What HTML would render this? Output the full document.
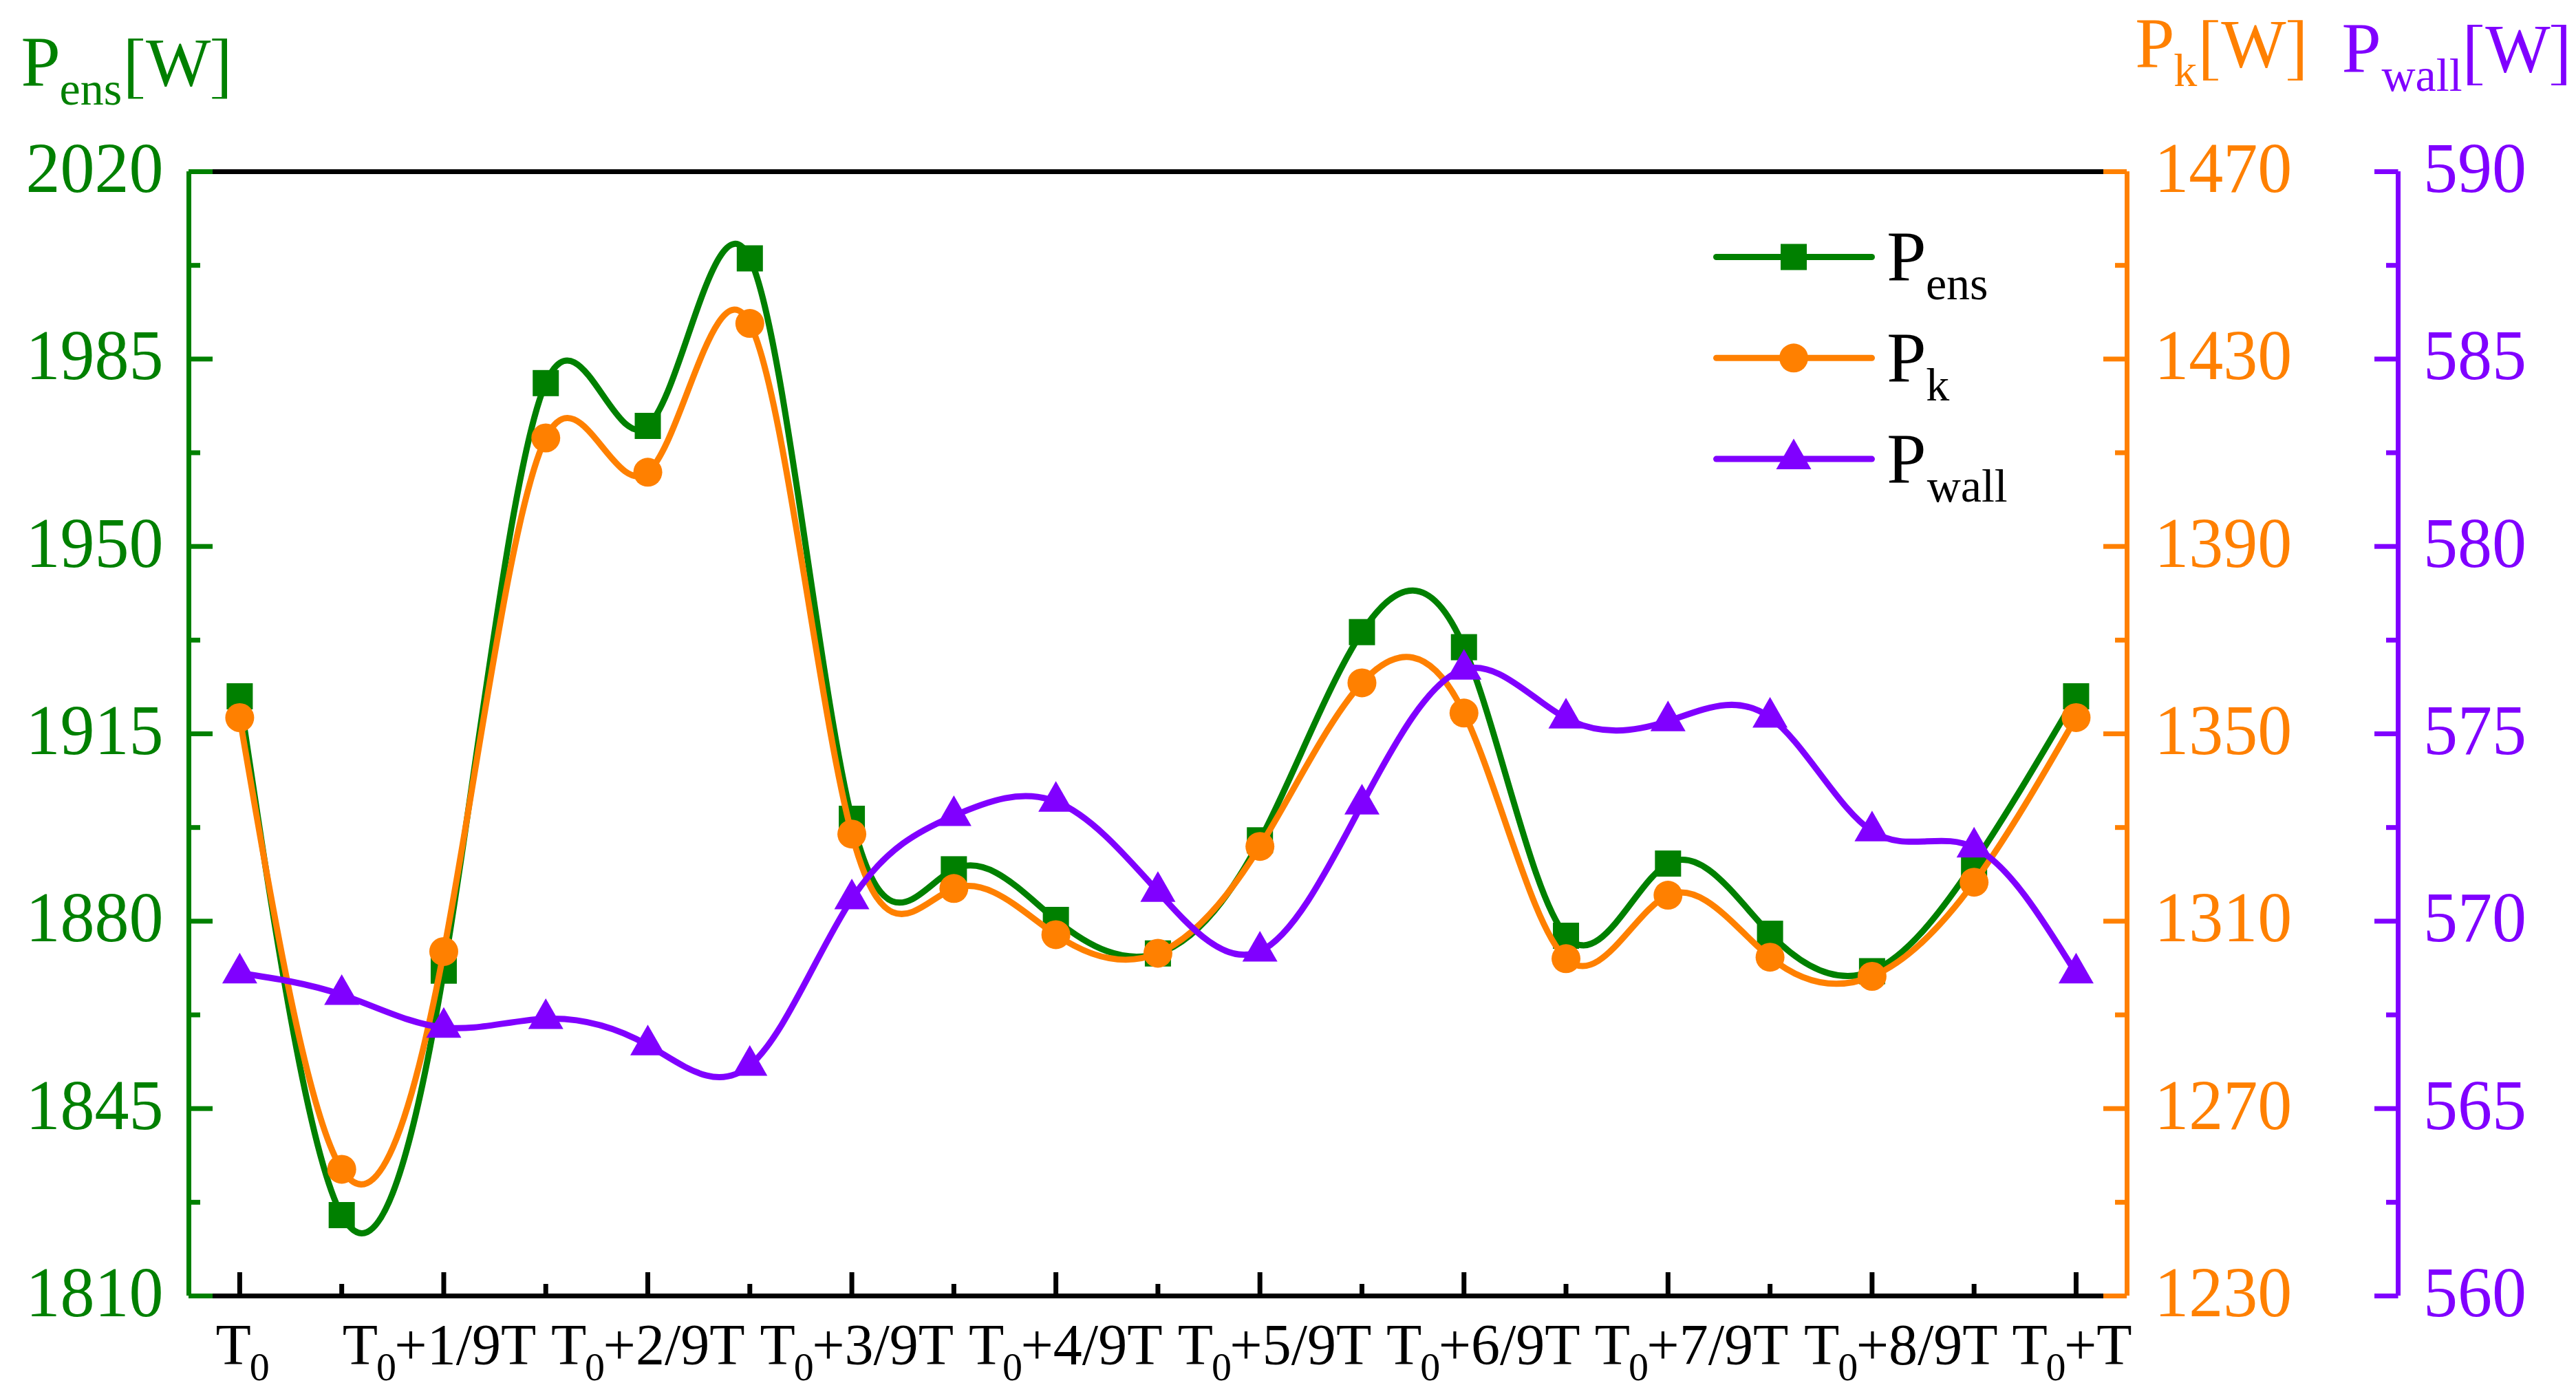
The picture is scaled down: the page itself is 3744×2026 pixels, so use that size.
<!DOCTYPE html><html><head><meta charset="utf-8"><style>html,body{margin:0;padding:0;background:#fff;overflow:hidden}svg{display:block}text{font-family:"Liberation Serif",serif}</style></head><body>
<svg width="3744" height="2026" viewBox="0 0 3744 2026">
<rect width="3744" height="2026" fill="#fff"/>
<rect x="274.00" y="246.00" width="2817.00" height="7" fill="#000000"/>
<rect x="274.00" y="1880.00" width="2817.00" height="7" fill="#000000"/>
<rect x="344.90" y="1849.00" width="7" height="34.50" fill="#000000"/>
<rect x="641.46" y="1849.00" width="7" height="34.50" fill="#000000"/>
<rect x="938.02" y="1849.00" width="7" height="34.50" fill="#000000"/>
<rect x="1234.58" y="1849.00" width="7" height="34.50" fill="#000000"/>
<rect x="1531.14" y="1849.00" width="7" height="34.50" fill="#000000"/>
<rect x="1827.70" y="1849.00" width="7" height="34.50" fill="#000000"/>
<rect x="2124.26" y="1849.00" width="7" height="34.50" fill="#000000"/>
<rect x="2420.82" y="1849.00" width="7" height="34.50" fill="#000000"/>
<rect x="2717.38" y="1849.00" width="7" height="34.50" fill="#000000"/>
<rect x="3013.94" y="1849.00" width="7" height="34.50" fill="#000000"/>
<rect x="493.18" y="1866.00" width="7" height="17.50" fill="#000000"/>
<rect x="789.74" y="1866.00" width="7" height="17.50" fill="#000000"/>
<rect x="1086.30" y="1866.00" width="7" height="17.50" fill="#000000"/>
<rect x="1382.86" y="1866.00" width="7" height="17.50" fill="#000000"/>
<rect x="1679.42" y="1866.00" width="7" height="17.50" fill="#000000"/>
<rect x="1975.98" y="1866.00" width="7" height="17.50" fill="#000000"/>
<rect x="2272.54" y="1866.00" width="7" height="17.50" fill="#000000"/>
<rect x="2569.10" y="1866.00" width="7" height="17.50" fill="#000000"/>
<rect x="2865.66" y="1866.00" width="7" height="17.50" fill="#000000"/>
<rect x="271.00" y="249.00" width="7" height="1634.00" fill="#008000"/>
<rect x="274.00" y="246.00" width="35.00" height="7" fill="#008000"/>
<rect x="274.00" y="518.33" width="35.00" height="7" fill="#008000"/>
<rect x="274.00" y="790.67" width="35.00" height="7" fill="#008000"/>
<rect x="274.00" y="1063.00" width="35.00" height="7" fill="#008000"/>
<rect x="274.00" y="1335.33" width="35.00" height="7" fill="#008000"/>
<rect x="274.00" y="1607.67" width="35.00" height="7" fill="#008000"/>
<rect x="274.00" y="1880.00" width="35.00" height="7" fill="#008000"/>
<rect x="274.00" y="382.17" width="17.00" height="7" fill="#008000"/>
<rect x="274.00" y="654.50" width="17.00" height="7" fill="#008000"/>
<rect x="274.00" y="926.83" width="17.00" height="7" fill="#008000"/>
<rect x="274.00" y="1199.17" width="17.00" height="7" fill="#008000"/>
<rect x="274.00" y="1471.50" width="17.00" height="7" fill="#008000"/>
<rect x="274.00" y="1743.83" width="17.00" height="7" fill="#008000"/>
<rect x="3088.00" y="249.00" width="7" height="1634.00" fill="#FF8000"/>
<rect x="3057.00" y="246.00" width="34.00" height="7" fill="#FF8000"/>
<rect x="3057.00" y="518.33" width="34.00" height="7" fill="#FF8000"/>
<rect x="3057.00" y="790.67" width="34.00" height="7" fill="#FF8000"/>
<rect x="3057.00" y="1063.00" width="34.00" height="7" fill="#FF8000"/>
<rect x="3057.00" y="1335.33" width="34.00" height="7" fill="#FF8000"/>
<rect x="3057.00" y="1607.67" width="34.00" height="7" fill="#FF8000"/>
<rect x="3057.00" y="1880.00" width="34.00" height="7" fill="#FF8000"/>
<rect x="3074.00" y="382.17" width="17.00" height="7" fill="#FF8000"/>
<rect x="3074.00" y="654.50" width="17.00" height="7" fill="#FF8000"/>
<rect x="3074.00" y="926.83" width="17.00" height="7" fill="#FF8000"/>
<rect x="3074.00" y="1199.17" width="17.00" height="7" fill="#FF8000"/>
<rect x="3074.00" y="1471.50" width="17.00" height="7" fill="#FF8000"/>
<rect x="3074.00" y="1743.83" width="17.00" height="7" fill="#FF8000"/>
<rect x="3482.00" y="249.00" width="7" height="1634.00" fill="#8000FF"/>
<rect x="3451.00" y="246.00" width="34.50" height="7" fill="#8000FF"/>
<rect x="3451.00" y="518.33" width="34.50" height="7" fill="#8000FF"/>
<rect x="3451.00" y="790.67" width="34.50" height="7" fill="#8000FF"/>
<rect x="3451.00" y="1063.00" width="34.50" height="7" fill="#8000FF"/>
<rect x="3451.00" y="1335.33" width="34.50" height="7" fill="#8000FF"/>
<rect x="3451.00" y="1607.67" width="34.50" height="7" fill="#8000FF"/>
<rect x="3451.00" y="1880.00" width="34.50" height="7" fill="#8000FF"/>
<rect x="3468.00" y="382.17" width="17.50" height="7" fill="#8000FF"/>
<rect x="3468.00" y="654.50" width="17.50" height="7" fill="#8000FF"/>
<rect x="3468.00" y="926.83" width="17.50" height="7" fill="#8000FF"/>
<rect x="3468.00" y="1199.17" width="17.50" height="7" fill="#8000FF"/>
<rect x="3468.00" y="1471.50" width="17.50" height="7" fill="#8000FF"/>
<rect x="3468.00" y="1743.83" width="17.50" height="7" fill="#8000FF"/>
<text transform="translate(237.5 278.8) scale(1 1.030)" font-size="100" fill="#008000" text-anchor="end">2020</text>
<text transform="translate(3131.3 278.8) scale(1 1.030)" font-size="100" fill="#FF8000">1470</text>
<text transform="translate(3522 278.8) scale(1 1.030)" font-size="100" fill="#8000FF">590</text>
<text transform="translate(237.5 551.1) scale(1 1.030)" font-size="100" fill="#008000" text-anchor="end">1985</text>
<text transform="translate(3131.3 551.1) scale(1 1.030)" font-size="100" fill="#FF8000">1430</text>
<text transform="translate(3522 551.1) scale(1 1.030)" font-size="100" fill="#8000FF">585</text>
<text transform="translate(237.5 823.5) scale(1 1.030)" font-size="100" fill="#008000" text-anchor="end">1950</text>
<text transform="translate(3131.3 823.5) scale(1 1.030)" font-size="100" fill="#FF8000">1390</text>
<text transform="translate(3522 823.5) scale(1 1.030)" font-size="100" fill="#8000FF">580</text>
<text transform="translate(237.5 1095.8) scale(1 1.030)" font-size="100" fill="#008000" text-anchor="end">1915</text>
<text transform="translate(3131.3 1095.8) scale(1 1.030)" font-size="100" fill="#FF8000">1350</text>
<text transform="translate(3522 1095.8) scale(1 1.030)" font-size="100" fill="#8000FF">575</text>
<text transform="translate(237.5 1368.1) scale(1 1.030)" font-size="100" fill="#008000" text-anchor="end">1880</text>
<text transform="translate(3131.3 1368.1) scale(1 1.030)" font-size="100" fill="#FF8000">1310</text>
<text transform="translate(3522 1368.1) scale(1 1.030)" font-size="100" fill="#8000FF">570</text>
<text transform="translate(237.5 1640.5) scale(1 1.030)" font-size="100" fill="#008000" text-anchor="end">1845</text>
<text transform="translate(3131.3 1640.5) scale(1 1.030)" font-size="100" fill="#FF8000">1270</text>
<text transform="translate(3522 1640.5) scale(1 1.030)" font-size="100" fill="#8000FF">565</text>
<text transform="translate(237.5 1912.8) scale(1 1.030)" font-size="100" fill="#008000" text-anchor="end">1810</text>
<text transform="translate(3131.3 1912.8) scale(1 1.030)" font-size="100" fill="#FF8000">1230</text>
<text transform="translate(3522 1912.8) scale(1 1.030)" font-size="100" fill="#8000FF">560</text>
<text x="313.6" y="1983" font-size="84" fill="#000">T<tspan font-size="58" dx="-2.2" dy="22.5">0</tspan></text>
<text x="497.8" y="1983" font-size="84" fill="#000">T<tspan font-size="58" dx="-2.2" dy="22.5">0</tspan><tspan dx="-2.57" dy="-22.5">+1/9T</tspan></text>
<text x="801.0" y="1983" font-size="84" fill="#000">T<tspan font-size="58" dx="-2.2" dy="22.5">0</tspan><tspan dx="-2.57" dy="-22.5">+2/9T</tspan></text>
<text x="1104.6" y="1983" font-size="84" fill="#000">T<tspan font-size="58" dx="-2.2" dy="22.5">0</tspan><tspan dx="-2.57" dy="-22.5">+3/9T</tspan></text>
<text x="1407.9" y="1983" font-size="84" fill="#000">T<tspan font-size="58" dx="-2.2" dy="22.5">0</tspan><tspan dx="-2.57" dy="-22.5">+4/9T</tspan></text>
<text x="1711.8" y="1983" font-size="84" fill="#000">T<tspan font-size="58" dx="-2.2" dy="22.5">0</tspan><tspan dx="-2.57" dy="-22.5">+5/9T</tspan></text>
<text x="2015.1" y="1983" font-size="84" fill="#000">T<tspan font-size="58" dx="-2.2" dy="22.5">0</tspan><tspan dx="-2.57" dy="-22.5">+6/9T</tspan></text>
<text x="2317.8" y="1983" font-size="84" fill="#000">T<tspan font-size="58" dx="-2.2" dy="22.5">0</tspan><tspan dx="-2.57" dy="-22.5">+7/9T</tspan></text>
<text x="2622.1" y="1983" font-size="84" fill="#000">T<tspan font-size="58" dx="-2.2" dy="22.5">0</tspan><tspan dx="-2.57" dy="-22.5">+8/9T</tspan></text>
<text x="2924.4" y="1983" font-size="84" fill="#000">T<tspan font-size="58" dx="-2.2" dy="22.5">0</tspan><tspan dx="-2.57" dy="-22.5">+T</tspan></text>
<text x="30.5" y="125" font-size="103" fill="#008000">P</text>
<text x="86.5" y="152" font-size="68" fill="#008000">ens</text>
<path d="M186.3 56.1 H208.0 V59.1 H194.0 V141.0 H208.0 V143.6 H186.3 Z" fill="#008000"/>
<text x="212" y="124.3" font-size="100" fill="#008000">W</text>
<path d="M330.0 56.1 H308.3 V59.1 H322.3 V141.0 H308.3 V143.6 H330.0 Z" fill="#008000"/>
<text x="3103.2" y="98" font-size="103" fill="#FF8000">P</text>
<text x="3159.2" y="124.5" font-size="68" fill="#FF8000">k</text>
<path d="M3202.1 29.2 H3223.8 V32.2 H3209.8 V114.4 H3223.8 V117.0 H3202.1 Z" fill="#FF8000"/>
<text x="3228.3" y="97.3" font-size="100" fill="#FF8000">W</text>
<path d="M3346.8 29.2 H3325.1 V32.2 H3339.1 V114.4 H3325.1 V117.0 H3346.8 Z" fill="#FF8000"/>
<text x="3403.5" y="104.9" font-size="103" fill="#8000FF">P</text>
<text x="3461.5" y="131.5" font-size="68" fill="#8000FF">wall</text>
<path d="M3586.2 36.1 H3607.9 V39.1 H3593.9 V121.4 H3607.9 V124.0 H3586.2 Z" fill="#8000FF"/>
<text x="3612.3" y="104.2" font-size="100" fill="#8000FF">W</text>
<path d="M3729.8 36.1 H3708.1 V39.1 H3722.1 V121.4 H3708.1 V124.0 H3729.8 Z" fill="#8000FF"/>
<path d="M348.40 1012.00 C397.83 1343.50 447.25 1675.00 496.68 1766.00 C546.11 1857.00 595.53 1707.49 644.96 1410.70 C694.39 1113.91 743.81 669.83 793.24 556.80 C842.67 443.77 892.09 661.79 941.52 619.00 C990.95 576.21 1040.37 272.61 1089.80 375.50 C1139.23 478.39 1188.65 987.77 1238.08 1190.00 C1287.51 1392.23 1336.93 1287.32 1386.36 1263.40 C1435.79 1239.48 1485.21 1296.56 1534.64 1337.00 C1584.07 1377.44 1633.49 1401.23 1682.92 1385.70 C1732.35 1370.17 1781.77 1315.31 1831.20 1221.30 C1880.63 1127.29 1930.05 994.12 1979.48 918.70 C2028.91 843.28 2078.33 825.62 2127.76 940.60 C2177.19 1055.58 2226.61 1303.20 2276.04 1360.00 C2325.47 1416.80 2374.89 1282.79 2424.32 1255.10 C2473.75 1227.41 2523.17 1306.06 2572.60 1357.10 C2622.03 1408.14 2671.45 1431.58 2720.88 1411.50 C2770.31 1391.42 2819.73 1327.84 2869.16 1254.00 C2918.59 1180.16 2968.01 1096.08 3017.44 1012.00" fill="none" stroke="#008000" stroke-width="9" stroke-linejoin="round" stroke-linecap="round"/>
<rect x="329.40" y="993.00" width="38" height="38" fill="#008000"/>
<rect x="477.68" y="1747.00" width="38" height="38" fill="#008000"/>
<rect x="625.96" y="1391.70" width="38" height="38" fill="#008000"/>
<rect x="774.24" y="537.80" width="38" height="38" fill="#008000"/>
<rect x="922.52" y="600.00" width="38" height="38" fill="#008000"/>
<rect x="1070.80" y="356.50" width="38" height="38" fill="#008000"/>
<rect x="1219.08" y="1171.00" width="38" height="38" fill="#008000"/>
<rect x="1367.36" y="1244.40" width="38" height="38" fill="#008000"/>
<rect x="1515.64" y="1318.00" width="38" height="38" fill="#008000"/>
<rect x="1663.92" y="1366.70" width="38" height="38" fill="#008000"/>
<rect x="1812.20" y="1202.30" width="38" height="38" fill="#008000"/>
<rect x="1960.48" y="899.70" width="38" height="38" fill="#008000"/>
<rect x="2108.76" y="921.60" width="38" height="38" fill="#008000"/>
<rect x="2257.04" y="1341.00" width="38" height="38" fill="#008000"/>
<rect x="2405.32" y="1236.10" width="38" height="38" fill="#008000"/>
<rect x="2553.60" y="1338.10" width="38" height="38" fill="#008000"/>
<rect x="2701.88" y="1392.50" width="38" height="38" fill="#008000"/>
<rect x="2850.16" y="1235.00" width="38" height="38" fill="#008000"/>
<rect x="2998.44" y="993.00" width="38" height="38" fill="#008000"/>
<path d="M348.40 1043.00 C397.83 1332.32 447.25 1621.64 496.68 1699.40 C546.11 1777.16 595.53 1643.35 644.96 1382.90 C694.39 1122.45 743.81 735.37 793.24 636.50 C842.67 537.63 892.09 726.96 941.52 686.30 C990.95 645.64 1040.37 374.98 1089.80 470.10 C1139.23 565.22 1188.65 1026.11 1238.08 1212.20 C1287.51 1398.29 1336.93 1309.57 1386.36 1291.30 C1435.79 1273.03 1485.21 1325.19 1534.64 1358.40 C1584.07 1391.61 1633.49 1405.85 1682.92 1385.40 C1732.35 1364.95 1781.77 1309.81 1831.20 1230.20 C1880.63 1150.59 1930.05 1046.53 1979.48 992.40 C2028.91 938.27 2078.33 934.09 2127.76 1036.30 C2177.19 1138.51 2226.61 1347.13 2276.04 1393.30 C2325.47 1439.47 2374.89 1323.19 2424.32 1301.10 C2473.75 1279.01 2523.17 1351.10 2572.60 1391.20 C2622.03 1431.30 2671.45 1439.42 2720.88 1419.00 C2770.31 1398.58 2819.73 1349.64 2869.16 1282.20 C2918.59 1214.76 2968.01 1128.83 3017.44 1042.90" fill="none" stroke="#FF8000" stroke-width="9" stroke-linejoin="round" stroke-linecap="round"/>
<circle cx="348.40" cy="1043.00" r="21.0" fill="#FF8000"/>
<circle cx="496.68" cy="1699.40" r="21.0" fill="#FF8000"/>
<circle cx="644.96" cy="1382.90" r="21.0" fill="#FF8000"/>
<circle cx="793.24" cy="636.50" r="21.0" fill="#FF8000"/>
<circle cx="941.52" cy="686.30" r="21.0" fill="#FF8000"/>
<circle cx="1089.80" cy="470.10" r="21.0" fill="#FF8000"/>
<circle cx="1238.08" cy="1212.20" r="21.0" fill="#FF8000"/>
<circle cx="1386.36" cy="1291.30" r="21.0" fill="#FF8000"/>
<circle cx="1534.64" cy="1358.40" r="21.0" fill="#FF8000"/>
<circle cx="1682.92" cy="1385.40" r="21.0" fill="#FF8000"/>
<circle cx="1831.20" cy="1230.20" r="21.0" fill="#FF8000"/>
<circle cx="1979.48" cy="992.40" r="21.0" fill="#FF8000"/>
<circle cx="2127.76" cy="1036.30" r="21.0" fill="#FF8000"/>
<circle cx="2276.04" cy="1393.30" r="21.0" fill="#FF8000"/>
<circle cx="2424.32" cy="1301.10" r="21.0" fill="#FF8000"/>
<circle cx="2572.60" cy="1391.20" r="21.0" fill="#FF8000"/>
<circle cx="2720.88" cy="1419.00" r="21.0" fill="#FF8000"/>
<circle cx="2869.16" cy="1282.20" r="21.0" fill="#FF8000"/>
<circle cx="3017.44" cy="1042.90" r="21.0" fill="#FF8000"/>
<path d="M348.40 1414.30 C397.83 1421.66 447.25 1429.02 496.68 1445.70 C546.11 1462.38 595.53 1488.38 644.96 1493.40 C694.39 1498.42 743.81 1482.45 793.24 1480.60 C842.67 1478.75 892.09 1491.03 941.52 1518.80 C990.95 1546.57 1040.37 1589.82 1089.80 1548.60 C1139.23 1507.38 1188.65 1381.69 1238.08 1306.60 C1287.51 1231.51 1336.93 1207.00 1386.36 1185.60 C1435.79 1164.20 1485.21 1145.89 1534.64 1165.00 C1584.07 1184.11 1633.49 1240.63 1682.92 1295.80 C1732.35 1350.97 1781.77 1404.78 1831.20 1382.60 C1880.63 1360.42 1930.05 1262.26 1979.48 1169.00 C2028.91 1075.74 2078.33 987.39 2127.76 972.80 C2177.19 958.21 2226.61 1017.38 2276.04 1043.80 C2325.47 1070.22 2374.89 1063.87 2424.32 1048.00 C2473.75 1032.13 2523.17 1006.72 2572.60 1042.60 C2622.03 1078.48 2671.45 1175.65 2720.88 1208.00 C2770.31 1240.35 2819.73 1207.89 2869.16 1231.50 C2918.59 1255.11 2968.01 1334.81 3017.44 1414.50" fill="none" stroke="#8000FF" stroke-width="9" stroke-linejoin="round" stroke-linecap="round"/>
<polygon points="348.40,1384.63 322.90,1429.13 373.90,1429.13" fill="#8000FF"/>
<polygon points="496.68,1416.03 471.18,1460.53 522.18,1460.53" fill="#8000FF"/>
<polygon points="644.96,1463.73 619.46,1508.23 670.46,1508.23" fill="#8000FF"/>
<polygon points="793.24,1450.93 767.74,1495.43 818.74,1495.43" fill="#8000FF"/>
<polygon points="941.52,1489.13 916.02,1533.63 967.02,1533.63" fill="#8000FF"/>
<polygon points="1089.80,1518.93 1064.30,1563.43 1115.30,1563.43" fill="#8000FF"/>
<polygon points="1238.08,1276.93 1212.58,1321.43 1263.58,1321.43" fill="#8000FF"/>
<polygon points="1386.36,1155.93 1360.86,1200.43 1411.86,1200.43" fill="#8000FF"/>
<polygon points="1534.64,1135.33 1509.14,1179.83 1560.14,1179.83" fill="#8000FF"/>
<polygon points="1682.92,1266.13 1657.42,1310.63 1708.42,1310.63" fill="#8000FF"/>
<polygon points="1831.20,1352.93 1805.70,1397.43 1856.70,1397.43" fill="#8000FF"/>
<polygon points="1979.48,1139.33 1953.98,1183.83 2004.98,1183.83" fill="#8000FF"/>
<polygon points="2127.76,943.13 2102.26,987.63 2153.26,987.63" fill="#8000FF"/>
<polygon points="2276.04,1014.13 2250.54,1058.63 2301.54,1058.63" fill="#8000FF"/>
<polygon points="2424.32,1018.33 2398.82,1062.83 2449.82,1062.83" fill="#8000FF"/>
<polygon points="2572.60,1012.93 2547.10,1057.43 2598.10,1057.43" fill="#8000FF"/>
<polygon points="2720.88,1178.33 2695.38,1222.83 2746.38,1222.83" fill="#8000FF"/>
<polygon points="2869.16,1201.83 2843.66,1246.33 2894.66,1246.33" fill="#8000FF"/>
<polygon points="3017.44,1384.83 2991.94,1429.33 3042.94,1429.33" fill="#8000FF"/>
<line x1="2494.5" y1="373.5" x2="2720.5" y2="373.5" stroke="#008000" stroke-width="9" stroke-linecap="round"/>
<rect x="2588.00" y="354.50" width="38" height="38" fill="#008000"/>
<text x="2742.3" y="408.0" font-size="103" fill="#000">P</text>
<text x="2798.9" y="435.0" font-size="68" fill="#000">ens</text>
<line x1="2494.5" y1="520.3" x2="2720.5" y2="520.3" stroke="#FF8000" stroke-width="9" stroke-linecap="round"/>
<circle cx="2607.00" cy="520.30" r="21.0" fill="#FF8000"/>
<text x="2742.3" y="555.0" font-size="103" fill="#000">P</text>
<text x="2799.2" y="581.5" font-size="68" fill="#000">k</text>
<line x1="2494.5" y1="667.1" x2="2720.5" y2="667.1" stroke="#8000FF" stroke-width="9" stroke-linecap="round"/>
<polygon points="2607.00,637.43 2581.50,681.93 2632.50,681.93" fill="#8000FF"/>
<text x="2742.3" y="702.2" font-size="103" fill="#000">P</text>
<text x="2800.7" y="729.0" font-size="68" fill="#000">wall</text>
</svg></body></html>
